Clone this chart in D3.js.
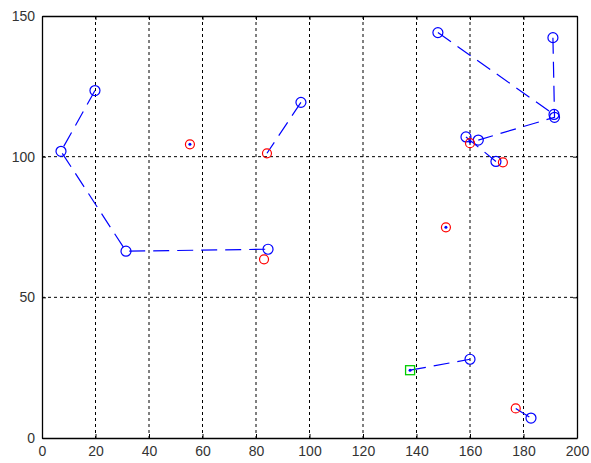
<!DOCTYPE html>
<html>
<head>
<meta charset="utf-8">
<script src="https://cdn.jsdelivr.net/npm/d3@7"></script>
<style>
  body { margin: 0; background: #fff; }
  text { font-family: "Liberation Sans", Arial, sans-serif; }
</style>
</head>
<body>
<div id="chart"></div>
<script>
var xTicks = [0, 20, 40, 60, 80, 100, 120, 140, 160, 180, 200];
var yTicks = [0, 50, 100, 150];

// dashed blue tracks (x, y)
var tracks = [
  [[19.8, 123.5], [7.1, 101.9], [31.4, 66.4], [84.5, 67.1]],
  [[96.8, 119.3], [84.1, 101.2]],
  [[148.0, 144.1], [191.4, 115.0]],
  [[191.0, 142.3], [191.6, 114.0], [163.1, 105.9]],
  [[158.5, 107.0], [169.7, 98.3]],
  [[137.6, 24.1], [160.0, 28.0]],
  [[177.1, 10.5], [182.8, 7.1]]
];

// blue circle markers
var bluePts = [
  [19.8, 123.5], [7.1, 101.9], [31.4, 66.4], [84.5, 67.1],
  [96.8, 119.3],
  [148.0, 144.1], [191.4, 115.0],
  [191.0, 142.3], [191.6, 114.0], [163.1, 105.9],
  [158.5, 107.0], [169.7, 98.3],
  [160.0, 28.0], [182.8, 7.1]
];

// red circle markers
var redPts = [
  [83.0, 63.5], [84.1, 101.2], [55.3, 104.4], [151.0, 74.9],
  [160.0, 104.8], [172.3, 98.0], [177.1, 10.5]
];

// small blue dots
var dotPts = [[55.3, 104.4], [151.0, 74.9], [137.6, 24.1], [160.0, 105.3]];

// green square
var greenPts = [[137.6, 24.1]];

var W = 591, H = 463;
var margin = { top: 16, left: 42, right: 14, bottom: 25 };
var width = W - margin.left - margin.right,
    height = H - margin.top - margin.bottom;

var svg = d3.select("#chart").append("svg")
    .attr("width", W)
    .attr("height", H);

var g = svg.append("g")
    .attr("transform", "translate(" + margin.left + "," + margin.top + ")");

var x = d3.scaleLinear().domain([0, 200]).range([0, width]);
var y = d3.scaleLinear().domain([0, 150]).range([height, 0]);

// grid
g.append("g").selectAll("line")
    .data(xTicks.slice(1, -1))
    .enter().append("line")
    .attr("x1", d => x(d)).attr("x2", d => x(d))
    .attr("y1", 0).attr("y2", height)
    .attr("stroke", "#000").attr("stroke-width", 1)
    .attr("stroke-dasharray", "3,3");

g.append("g").selectAll("line")
    .data(yTicks.slice(1, -1))
    .enter().append("line")
    .attr("y1", d => y(d)).attr("y2", d => y(d))
    .attr("x1", 0).attr("x2", width)
    .attr("stroke", "#000").attr("stroke-width", 1)
    .attr("stroke-dasharray", "3,3");

// axes (ticks inward like matlab)
var xAxis = g.append("g")
    .attr("transform", "translate(0," + height + ")")
    .call(d3.axisBottom(x).tickValues(xTicks).tickSizeInner(-4).tickSizeOuter(0).tickPadding(8));
var yAxis = g.append("g")
    .call(d3.axisLeft(y).tickValues(yTicks).tickSizeInner(-4).tickSizeOuter(0).tickPadding(7));
g.append("g")
    .call(d3.axisTop(x).tickValues(xTicks).tickSizeInner(-4).tickSizeOuter(0).tickFormat(""));
g.append("g")
    .attr("transform", "translate(" + width + ",0)")
    .call(d3.axisRight(y).tickValues(yTicks).tickSizeInner(-4).tickSizeOuter(0).tickFormat(""));

svg.selectAll(".domain").attr("stroke", "#000").attr("stroke-width", 1.3);
svg.selectAll(".tick line").attr("stroke", "#000");
[xAxis, yAxis].forEach(function(a) {
  a.selectAll("text")
    .style("font-size", "14px")
    .attr("fill", "#333");
});

// tracks
var line = d3.line().x(d => x(d[0])).y(d => y(d[1]));
g.append("g").selectAll("path")
    .data(tracks)
    .enter().append("path")
    .attr("d", line)
    .attr("fill", "none")
    .attr("stroke", "#0000ff")
    .attr("stroke-width", 1.2)
    .attr("stroke-dasharray", "16,8");

g.append("g").selectAll("circle")
    .data(bluePts)
    .enter().append("circle")
    .attr("cx", d => x(d[0])).attr("cy", d => y(d[1]))
    .attr("r", 5)
    .attr("fill", "none")
    .attr("stroke", "#0000ff")
    .attr("stroke-width", 1.2);

g.append("g").selectAll("circle")
    .data(redPts)
    .enter().append("circle")
    .attr("cx", d => x(d[0])).attr("cy", d => y(d[1]))
    .attr("r", 4.5)
    .attr("fill", "none")
    .attr("stroke", "#ff0000")
    .attr("stroke-width", 1.2);

g.append("g").selectAll("rect")
    .data(greenPts)
    .enter().append("rect")
    .attr("x", d => x(d[0]) - 4.5).attr("y", d => y(d[1]) - 4.5)
    .attr("width", 9).attr("height", 9)
    .attr("fill", "none")
    .attr("stroke", "#00cc00")
    .attr("stroke-width", 1.3);

g.append("g").selectAll("circle")
    .data(dotPts)
    .enter().append("circle")
    .attr("cx", d => x(d[0])).attr("cy", d => y(d[1]))
    .attr("r", 1.5)
    .attr("fill", "#0000ff");
</script>
</body>
</html>
